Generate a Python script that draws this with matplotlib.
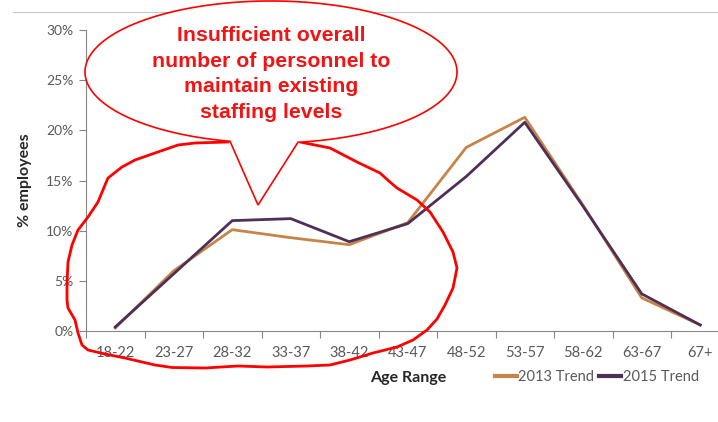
import numpy as np
import matplotlib
matplotlib.use("Agg")
import matplotlib.pyplot as plt
from matplotlib.path import Path
from matplotlib.patches import PathPatch

# ---- data -------------------------------------------------------------
age_ranges = ["18-22", "23-27", "28-32", "33-37", "38-42", "43-47",
              "48-52", "53-57", "58-62", "63-67", "67+"]
trend_2013 = [0.3, 6.0, 10.1, 9.3, 8.6, 10.8, 18.3, 21.3, 12.5, 3.3, 0.6]
trend_2015 = [0.4, 5.7, 11.0, 11.2, 8.9, 10.7, 15.4, 20.8, 12.4, 3.7, 0.6]
y_ticks = [0, 5, 10, 15, 20, 25, 30]
series_names = ["2013 Trend", "2015 Trend"]
callout_text = ("Insufficient overall\nnumber of personnel to\n"
                "maintain existing\nstaffing levels")

W, H = 718, 422
DPI = 100
fig = plt.figure(figsize=(W / DPI, H / DPI), dpi=DPI)
fig.patch.set_facecolor("white")

FONT = ["Lato", "DejaVu Sans"]
AXIS_GREY = "#868686"
TEXT_GREY = "#595959"
ORANGE = "#C6844A"
PURPLE = "#4E2F55"

# plot area in pixels: left 86, right 729.5 (runs past the edge), top 30, bottom 331
ax = fig.add_axes([86 / W, (H - 331) / H, 643.5 / W, 301 / H])
x = np.arange(len(age_ranges))
l13, = ax.plot(x, trend_2013, color=ORANGE, lw=2.0, solid_joinstyle="round", zorder=3)
l15, = ax.plot(x, trend_2015, color=PURPLE, lw=2.0, solid_joinstyle="round", zorder=4)

ax.set_xlim(-0.5, len(age_ranges) - 0.5)
ax.set_ylim(0, 30)
ax.set_yticks(y_ticks)
ax.set_yticklabels([f"{v}%" for v in y_ticks])
ax.set_xticks(x)
ax.set_xticklabels(age_ranges)
ax.set_xticks(np.arange(len(age_ranges) + 1) - 0.5, minor=True)
ax.tick_params(axis="x", which="major", length=0, pad=11,
               labelsize=10.5, labelcolor=TEXT_GREY)
ax.tick_params(axis="x", which="minor", length=5, width=0.8, color=AXIS_GREY)
ax.tick_params(axis="y", length=5, width=0.8, color=AXIS_GREY, pad=4,
               labelsize=10, labelcolor=TEXT_GREY)
for lab in ax.get_xticklabels() + ax.get_yticklabels():
    lab.set_family(FONT)
for side in ("top", "right"):
    ax.spines[side].set_visible(False)
for side in ("left", "bottom"):
    ax.spines[side].set_color(AXIS_GREY)
    ax.spines[side].set_linewidth(0.8)
ax.set_facecolor("none")

ax.set_xlabel("Age Range", fontsize=11.5, fontweight="bold", color="#262626",
              family=FONT, labelpad=8)
ax.set_ylabel("% employees", fontsize=11.5, fontweight="bold", color="#262626",
              family=FONT, labelpad=10)

leg = fig.legend([l13, l15], series_names, loc="center left",
                 bbox_to_anchor=(495 / W, 1 - 377 / H), ncol=2, frameon=False,
                 borderpad=0, borderaxespad=0, handlelength=1.5,
                 handletextpad=0.1, columnspacing=0.35,
                 prop={"family": FONT, "size": 10.5})
for t in leg.get_texts():
    t.set_color(TEXT_GREY)
for h in leg.legend_handles:
    h.set_linewidth(3)

# ---- overlay drawn in pixel coordinates ------------------------------
ov = fig.add_axes([0, 0, 1, 1])
ov.set_xlim(0, W)
ov.set_ylim(H, 0)
ov.axis("off")
ov.patch.set_alpha(0)

# thin rule across the top of the slide
ov.plot([13, W], [12, 12], color="#c8c8c8", lw=0.8, zorder=1)

# freehand loop around the younger age bands
loop = [(228, 142), (195, 143), (178, 145), (155, 153), (135, 160),
        (122, 167), (108, 178), (105, 185), (98, 202), (88, 217), (78, 230),
        (72, 245), (68, 262), (67, 283), (67, 300), (68, 308),
        (75, 320), (78, 333), (82, 345), (88, 350), (105, 354), (125, 358),
        (142, 362), (155, 365), (172, 367.5), (205, 368), (238, 366),
        (267, 367), (307, 366), (330, 365), (350, 360), (373, 353),
        (397, 347), (413, 340), (427, 330), (437, 319), (445, 305),
        (453, 288), (457, 268), (453, 252), (443, 232),
        (430, 212), (417, 200), (397, 188), (390, 182), (380, 173),
        (357, 162), (330, 148), (300, 142)]
lx, ly = zip(*loop)
ov.plot(lx, ly, color="#ff0000", lw=2.0, solid_joinstyle="round",
        solid_capstyle="round", zorder=5)

# speech-bubble callout: ellipse with a pointer at the bottom
cx, cy, rx, ry = 271, 72, 186, 71
tip = (258, 205)
# angles (maths convention, y up) of the pointer's two base points
a_right = 2 * np.pi - np.arccos((298 - cx) / rx)
a_left = 2 * np.pi - np.arccos((230 - cx) / rx) + 2 * np.pi
ang = np.linspace(a_right, a_left, 300)
ex = cx + rx * np.cos(ang)
ey = cy - ry * np.sin(ang)
verts = list(zip(ex, ey)) + [tip, (ex[0], ey[0])]
codes = [Path.MOVETO] + [Path.LINETO] * (len(verts) - 2) + [Path.CLOSEPOLY]
bubble = PathPatch(Path(verts, codes), facecolor="white", edgecolor="#ff0000",
                   lw=1.2, zorder=6)
ov.add_patch(bubble)
ov.text(271, 74, callout_text, ha="center", va="center", color="#f21414",
        fontsize=15.3, fontweight="bold", family=["Liberation Sans", "DejaVu Sans"],
        linespacing=1.45, zorder=7)

fig.savefig("out.png", dpi=DPI)
